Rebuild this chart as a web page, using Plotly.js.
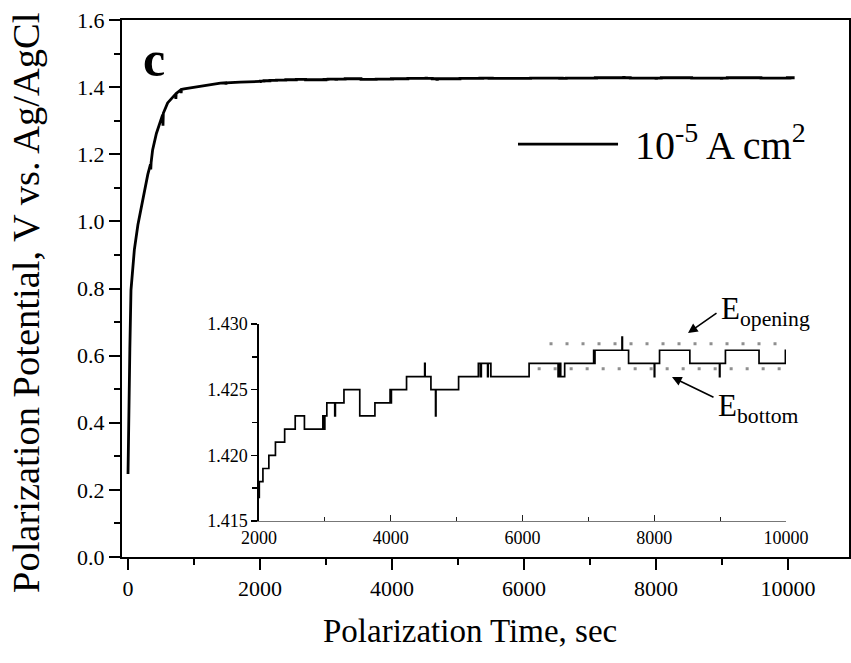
<!DOCTYPE html>
<html>
<head>
<meta charset="utf-8">
<script src="https://cdn.plot.ly/plotly-3.0.1.min.js"></script>
<style>html,body{margin:0;padding:0;background:#fff;}#chart{width:851px;height:663px;}</style>
</head>
<body>
<div id="chart"></div>
<script>
// ---- Data ----
// Early rise of the polarization potential (s, V vs. Ag/AgCl)
const riseTime = [0, 5, 10, 15, 20, 28, 45, 70, 96, 150, 222, 300, 340, 345, 350, 373, 430, 500, 525, 530, 535, 600, 700, 720, 725, 730, 800, 805, 810, 850, 1000, 1100, 1250, 1400, 1480, 1485, 1490, 1700, 2000];
const risePotential = [0.247, 0.33, 0.40, 0.48, 0.55, 0.62, 0.795, 0.87, 0.915, 0.99, 1.064, 1.14, 1.17, 1.155, 1.175, 1.213, 1.262, 1.302, 1.318, 1.285, 1.322, 1.353, 1.377, 1.379, 1.365, 1.381, 1.392, 1.382, 1.393, 1.395, 1.400, 1.403, 1.408, 1.412, 1.413, 1.408, 1.413, 1.415, 1.417];

// Stepwise plateau (2000 - 10100 s), step-after values
const stepTime = [2000, 2005, 2060, 2150, 2250, 2390, 2550, 2690, 2970, 2990, 3000, 3030, 3150, 3160, 3290, 3530, 3760, 3990, 4000, 4010, 4020, 4240, 4515, 4522, 4610, 4680, 4687, 5030, 5330, 5360, 5375, 5470, 5480, 5520, 6100, 6540, 6560, 6580, 6640, 7080, 7090, 7100, 7510, 7517, 7610, 8000, 8007, 8080, 8540, 8990, 8997, 9080, 9590, 9990, 10000, 10010, 10020, 10030, 10100];
const stepPotential = [1.4168, 1.418, 1.419, 1.420, 1.421, 1.422, 1.423, 1.422, 1.423, 1.422, 1.423, 1.424, 1.423, 1.424, 1.425, 1.423, 1.424, 1.425, 1.424, 1.425, 1.425, 1.426, 1.427, 1.426, 1.425, 1.423, 1.425, 1.426, 1.427, 1.426, 1.427, 1.426, 1.427, 1.426, 1.427, 1.426, 1.427, 1.426, 1.427, 1.428, 1.427, 1.428, 1.429, 1.428, 1.427, 1.426, 1.427, 1.428, 1.427, 1.426, 1.427, 1.428, 1.427, 1.428, 1.427, 1.428, 1.427, 1.428, 1.428];

// Reference levels in the inset
const openingTime = [6410, 10000];
const openingLevel = [1.4285, 1.4285];
const bottomTime = [6230, 10000];
const bottomLevel = [1.4266, 1.4266];

// Tick labels
const mainXTicks = [0, 2000, 4000, 6000, 8000, 10000];
const mainYTicks = [0.0, 0.2, 0.4, 0.6, 0.8, 1.0, 1.2, 1.4, 1.6];
const insetXTicks = [2000, 4000, 6000, 8000, 10000];
const insetYTicks = [1.415, 1.420, 1.425, 1.430];

const xTitle = 'Polarization Time, sec';
const yTitle = 'Polarization Potential, V vs. Ag/AgCl';
const seriesLabel = '10<sup>-5</sup> A cm<sup>2</sup>';
const panelLabel = 'c';
const openingLabel = 'E<sub>opening</sub>';
const bottomLabel = 'E<sub>bottom</sub>';

// ---- Plot ----
const FONT = '"Liberation Serif", "Times New Roman", Times, serif';
const traces = [
  {x: riseTime, y: risePotential, xaxis: 'x', yaxis: 'y', mode: 'lines',
   line: {color: '#000', width: 2.8}, showlegend: false, hoverinfo: 'skip'},
  {x: stepTime, y: stepPotential, xaxis: 'x', yaxis: 'y', mode: 'lines',
   line: {color: '#000', width: 2.8, shape: 'hv'}, showlegend: false, hoverinfo: 'skip'},
  {x: stepTime, y: stepPotential, xaxis: 'x2', yaxis: 'y2', mode: 'lines',
   line: {color: '#000', width: 1.7, shape: 'hv'}, showlegend: false, hoverinfo: 'skip'},
  {x: openingTime, y: openingLevel, xaxis: 'x2', yaxis: 'y2', mode: 'lines',
   line: {color: '#8f8f8f', width: 3, dash: '3px,13px'}, showlegend: false, hoverinfo: 'skip'},
  {x: bottomTime, y: bottomLevel, xaxis: 'x2', yaxis: 'y2', mode: 'lines',
   line: {color: '#8f8f8f', width: 3, dash: '3px,13px'}, showlegend: false, hoverinfo: 'skip'}
];

const layout = {
  width: 851, height: 663,
  margin: {l: 122, r: 2, t: 20, b: 106},
  paper_bgcolor: '#fff', plot_bgcolor: 'rgba(0,0,0,0)',
  font: {family: FONT, color: '#000'},
  showlegend: false,
  xaxis: {
    domain: [0, 1], range: [-91, 10924], anchor: 'y',
    tickvals: mainXTicks, ticktext: mainXTicks.map(String),
    ticks: 'outside', ticklen: 11, tickwidth: 2, tickcolor: '#000',
    minor: {dtick: 1000, tick0: 0, ticks: 'outside', ticklen: 6, tickwidth: 2, tickcolor: '#000', showgrid: false},
    showline: true, linewidth: 2, linecolor: '#000', mirror: true,
    showgrid: false, zeroline: false,
    tickfont: {family: FONT, size: 22, color: '#000'}
  },
  yaxis: {
    domain: [0, 1], range: [0, 1.6], anchor: 'x',
    tickvals: mainYTicks, ticktext: mainYTicks.map(v => v.toFixed(1)),
    ticks: 'outside', ticklen: 11, tickwidth: 2, tickcolor: '#000',
    minor: {dtick: 0.1, tick0: 0, ticks: 'outside', ticklen: 6, tickwidth: 2, tickcolor: '#000', showgrid: false},
    showline: true, linewidth: 2, linecolor: '#000', mirror: true,
    showgrid: false, zeroline: false,
    tickfont: {family: FONT, size: 22, color: '#000'}
  },
  xaxis2: {
    domain: [0.1884, 0.9134], range: [2000, 10000], anchor: 'y2',
    tickvals: insetXTicks, ticktext: insetXTicks.map(String),
    ticks: 'inside', ticklen: 6, tickwidth: 1.2, tickcolor: '#222',
    minor: {dtick: 1000, tick0: 0, ticks: 'inside', ticklen: 4, tickwidth: 1.2, tickcolor: '#222', showgrid: false},
    showline: true, linewidth: 1, linecolor: '#777',
    showgrid: false, zeroline: false,
    tickfont: {family: FONT, size: 18, color: '#000'}
  },
  yaxis2: {
    domain: [0.067, 0.4339], range: [1.415, 1.430], anchor: 'x2',
    tickvals: insetYTicks, ticktext: insetYTicks.map(v => v.toFixed(3)),
    ticks: 'outside', ticklen: 6, tickwidth: 1.5, tickcolor: '#000',
    minor: {dtick: 0.0025, tick0: 1.415, ticks: 'outside', ticklen: 5, tickwidth: 1.5, tickcolor: '#000', showgrid: false},
    showline: true, linewidth: 1.5, linecolor: '#000',
    showgrid: false, zeroline: false,
    tickfont: {family: FONT, size: 18, color: '#000'}
  },
  shapes: [
    {type: 'line', xref: 'paper', yref: 'paper', x0: 0.5447, x1: 0.6823, y0: 0.769, y1: 0.769,
     line: {color: '#000', width: 2.8}}
  ],
  annotations: [
    // axis titles
    {xref: 'paper', yref: 'paper', x: 0.4787, y: -0.138, xanchor: 'center', yanchor: 'middle',
     text: xTitle, showarrow: false, font: {family: FONT, size: 33, color: '#000'}},
    {xref: 'paper', yref: 'paper', x: -0.132, y: 0.473, xanchor: 'center', yanchor: 'middle',
     textangle: -90, text: yTitle, showarrow: false, font: {family: FONT, size: 38.5, color: '#000'}},
    // legend text
    {xref: 'paper', yref: 'paper', x: 0.7029, y: 0.772, xanchor: 'left', yanchor: 'middle',
     text: seriesLabel, showarrow: false, font: {family: FONT, size: 40, color: '#000'}},
    // panel letter
    {xref: 'paper', yref: 'paper', x: 0.026, y: 0.928, xanchor: 'left', yanchor: 'middle',
     text: '<b>' + panelLabel + '</b>', showarrow: false, font: {family: FONT, size: 50, color: '#000'}},
    // arrows pointing at the reference levels
    {xref: 'x2', yref: 'y2', x: 8512, y: 1.42931, ax: 30, ay: -21, text: '', showarrow: true,
     arrowhead: 2, arrowsize: 1.2, arrowwidth: 1.6, arrowcolor: '#000'},
    {xref: 'x2', yref: 'y2', x: 8269, y: 1.42596, ax: 43, ay: 21, text: '', showarrow: true,
     arrowhead: 2, arrowsize: 1.2, arrowwidth: 1.6, arrowcolor: '#000'},
    // level labels
    {xref: 'paper', yref: 'paper', x: 0.8212, y: 0.458, xanchor: 'left', yanchor: 'middle',
     text: openingLabel, showarrow: false, font: {family: FONT, size: 31, color: '#000'}},
    {xref: 'paper', yref: 'paper', x: 0.8171, y: 0.278, xanchor: 'left', yanchor: 'middle',
     text: bottomLabel, showarrow: false, font: {family: FONT, size: 31, color: '#000'}}
  ]
};

Plotly.newPlot('chart', traces, layout, {displayModeBar: false, staticPlot: true});
</script>
</body>
</html>
